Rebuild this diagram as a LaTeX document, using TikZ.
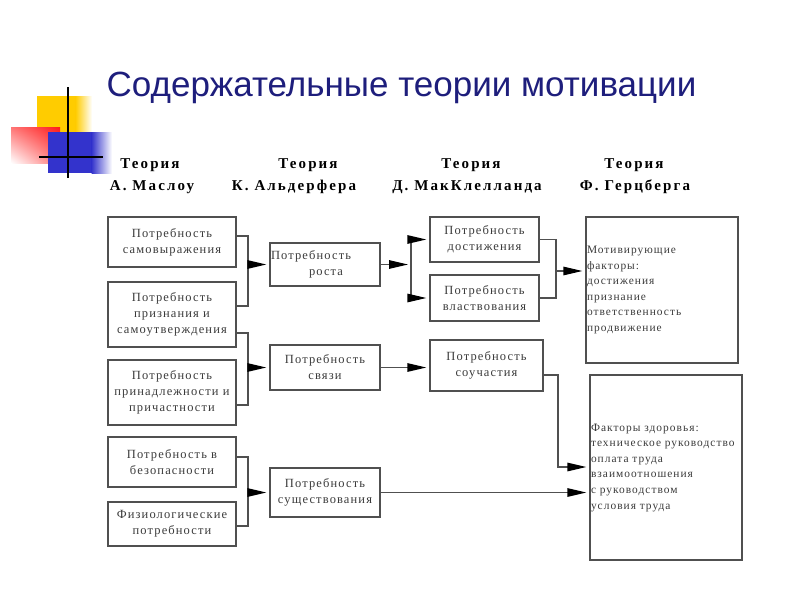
\documentclass[tikz,border=0pt]{standalone}
\usepackage{fontspec}
\setmainfont{Liberation Serif}
\newfontfamily\titlefont{Liberation Sans}
\newfontfamily\headfont[LetterSpace=14]{Liberation Serif}
\newfontfamily\needfont[LetterSpace=9]{Liberation Serif}
\newfontfamily\factfont[LetterSpace=9]{Liberation Serif}
\usepackage{tikz}
\usetikzlibrary{arrows.meta,shadings}
\definecolor{titleblue}{HTML}{1E1E7C}
\definecolor{decoyellow}{HTML}{FFCC00}
\definecolor{decored}{HTML}{FF1A1A}
\definecolor{decoblue}{HTML}{3333CC}
\definecolor{boxgray}{HTML}{505050}
\definecolor{textgray}{HTML}{3A3A3A}
\tikzset{
  needbox/.style  = {draw=boxgray, line width=1.3pt, text=textgray, align=center,
                     inner sep=1pt, font=\needfont\fontsize{12.5}{16}\selectfont},
  factbox/.style  = {draw=boxgray, line width=1.3pt, text=textgray, align=left,
                     inner xsep=1pt, font=\factfont\fontsize{11.4}{15.6}\selectfont},
  headtext/.style = {font=\headfont\bfseries\fontsize{15}{18}\selectfont, inner sep=0pt},
  link/.style     = {boxgray, line width=1.3pt},
  linkar/.style   = {link, -{Triangle[length=19pt,width=8.5pt,color=black]}, shorten >=3pt}
}

\begin{document}
\begin{tikzpicture}[x=1pt,y=-1pt]
  \useasboundingbox (0,0) rectangle (800,600);
  \fill[decoyellow] (37,96) rectangle (76,133);
  \shade[left color=decoyellow, right color=white] (75.5,96) rectangle (92,133);
  \shade[upper right=decored, upper left=decored!60!white,
         lower right=decored!60!white, lower left=white] (11,127) rectangle (60,163);
  \fill[decoblue] (48,132) rectangle (92,173);
  \shade[left color=decoblue, right color=white] (91.5,132) rectangle (112,173);
  \draw[black, line width=2pt] (68,87) -- (68,178);
  \draw[black, line width=2pt] (39,157) -- (103,157);
  \node[text=titleblue, font=\titlefont\fontsize{35}{40}\selectfont,
        anchor=base] (title) at (401.5,96) {Содержательные теории мотивации};

  \foreach \a/\b/\t [count=\i] in {150/152/А. Маслоу, 308/294/К. Альдерфера,
        471/467/Д. МакКлелланда, 634/635/Ф. Герцберга} {
    \node[headtext] (th\i) at (\a,165) {Теория};
    \node[headtext] (tn\i) at (\b,187) {\t};
  }

  \node[needbox, minimum width=128pt, minimum height=50pt] (sam)  at (172,242)
        {Потребность\\самовыражения};
  \node[needbox, minimum width=128pt, minimum height=65pt] (pri)  at (172,314.5)
        {Потребность\\признания и\\самоутверждения};
  \node[needbox, minimum width=128pt, minimum height=65pt] (pric) at (172,392.5)
        {Потребность\\принадлежности и\\причастности};
  \node[needbox, minimum width=128pt, minimum height=50pt] (bez)  at (172,462)
        {Потребность в\\безопасности};
  \node[needbox, minimum width=128pt, minimum height=44pt] (fiz)  at (172,524)
        {Физиологические\\потребности};

  \node[needbox, align=left, text width=108pt, minimum height=43pt] (rost) at (325,264.5)
        {Потребность\\\hspace*{38pt}роста};
  \node[needbox, minimum width=110pt, minimum height=45pt] (svyaz) at (325,367.5)
        {Потребность\\связи};
  \node[needbox, minimum width=110pt, minimum height=49pt] (sush)  at (325,492.5)
        {Потребность\\существования};

  \node[needbox, minimum width=109pt, minimum height=45pt] (dost)  at (484.5,239.5)
        {Потребность\\достижения};
  \node[needbox, minimum width=109pt, minimum height=46pt] (vlast) at (484.5,298)
        {Потребность\\властвования};
  \node[needbox, minimum width=113pt, minimum height=51pt] (souch) at (486.5,365.5)
        {Потребность\\соучастия};

  \node[factbox, text width=150pt, minimum height=146pt] (motiv)  at (662,290)
        {Мотивирующие\\факторы:\\достижения\\признание\\ответственность\\продвижение};
  \node[factbox, text width=150pt, minimum height=185pt] (health) at (666,467.5)
        {Факторы здоровья:\\техническое руководство\\оплата труда\\взаимоотношения\\с руководством\\условия труда};

  \coordinate (b1) at (248,264.5);
  \coordinate (b2) at (248,367.5);
  \coordinate (b3) at (248,492.5);
  \coordinate (b4) at (411,264.5);
  \coordinate (b5) at (556,271);
  \coordinate (b6) at (558,467);
  \draw[link] ([yshift=6pt]sam.east) -| (b1) |- ([yshift=8.5pt]pri.east);
  \draw[link] ([yshift=-18.5pt]pri.east) -| (b2) |- ([yshift=-12.5pt]pric.east);
  \draw[link] ([yshift=5pt]bez.east) -| (b3) |- ([yshift=-2pt]fiz.east);
  \draw[linkar] (b1) -- (rost);
  \draw[linkar] (b2) -- (svyaz);
  \draw[linkar] (b3) -- (sush);
  \draw[linkar] (rost) -- (b4);
  \draw[linkar] (b4) |- (dost);
  \draw[linkar] (b4) |- (vlast);
  \draw[linkar] (svyaz.east) -- (svyaz.east -| souch.west);
  \draw[link] (dost.east) -| (b5) |- (vlast.east);
  \draw[linkar] (b5) -- (b5 -| motiv.west);
  \draw[linkar] ([yshift=-9.5pt]souch.east) -| (b6) -- (b6 -| health.west);
  \draw[linkar] (sush.east) -- (sush.east -| health.west);
\end{tikzpicture}
\end{document}
